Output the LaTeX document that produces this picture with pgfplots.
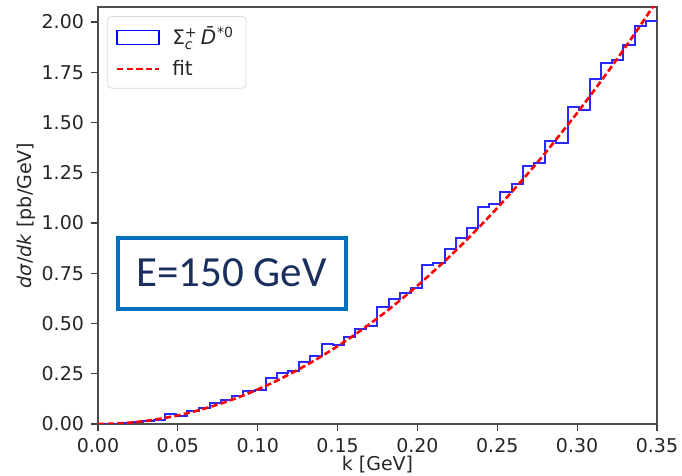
\documentclass[border=0pt]{standalone}
\usepackage{fontspec}
\setmainfont{DejaVu Sans}
\newfontfamily\calibri{Carlito}
\usepackage{pgfplots}
\pgfplotsset{compat=1.18}
\definecolor{boxblue}{HTML}{0070C0}
\definecolor{navy}{HTML}{1A2F5E}
\definecolor{histblue}{RGB}{40,40,255}
\begin{document}
\begin{tikzpicture}
\begin{axis}[
  scale only axis,
  width=279.5pt, height=208.5pt,
  xmin=0, xmax=0.35, ymin=0, ymax=2.075,
  xtick={0,0.05,...,0.35},
  ytick={0,0.25,...,2.0},
  xtick pos=lower, ytick pos=left,
  /pgf/number format/assume math mode=true,
  xticklabel style={/pgf/number format/.cd,fixed,fixed zerofill,precision=2},
  yticklabel style={/pgf/number format/.cd,fixed,fixed zerofill,precision=2},
  scaled x ticks=false, scaled y ticks=false,
  tick align=outside,
  major tick length=3.5pt,
  tick style={black!75, line width=0.6pt},
  axis line style={black!70, line width=0.7pt},
  tick label style={font=\fontsize{9.5}{11}\selectfont, text=black!85},
  label style={font=\fontsize{9.5}{11}\selectfont, text=black!85},
  xlabel={k [GeV]},
  ylabel={\textit{dσ}/\textit{dk} [pb/GeV]},
  xlabel style={yshift=5pt},
  ylabel style={yshift=-4pt},
  legend style={at={(axis cs:0.0058,2.03)}, anchor=north west, draw=black!15, rounded corners=2pt,
    fill=white, font=\fontsize{10}{12}\selectfont, inner xsep=4pt, inner ysep=3pt, row sep=2pt,
    text=black!85, /tikz/every odd column/.append style={column sep=4pt},
    /tikz/every even column/.append style={column sep=4pt}},
  legend cell align=left,
]
\addplot[histblue, line width=1pt, const plot mark left,
  legend image code/.code={\draw[blue, line width=0.6pt, sharp corners] (0pt,-3.5pt) rectangle (21pt,3.5pt);}]
coordinates {
(0,0) (0,0.0005) (0.007,0.002) (0.014,0.005) (0.021,0.010) (0.028,0.015) (0.035,0.022)
(0.042,0.050) (0.049,0.042) (0.056,0.066) (0.063,0.080) (0.070,0.105) (0.077,0.119)
(0.084,0.139) (0.091,0.166) (0.098,0.168) (0.105,0.230) (0.112,0.255) (0.119,0.262)
(0.126,0.308) (0.133,0.338) (0.140,0.400) (0.147,0.393) (0.154,0.434) (0.161,0.472)
(0.168,0.490) (0.175,0.580) (0.182,0.620) (0.189,0.650) (0.196,0.678) (0.203,0.790)
(0.210,0.800) (0.217,0.870) (0.224,0.927) (0.231,0.973) (0.238,1.082) (0.245,1.093)
(0.252,1.156) (0.259,1.195) (0.266,1.285) (0.273,1.300) (0.280,1.410) (0.287,1.400)
(0.294,1.575) (0.301,1.560) (0.308,1.715) (0.315,1.795) (0.322,1.810) (0.329,1.887)
(0.336,1.980) (0.343,2.006) (0.350,2.006)
};
\addlegendentry{\mbox{Σ}$^{\mbox{\fontsize{7}{8}\selectfont +}}_{\mbox{\fontsize{7}{8}\selectfont\textit{c}}}$\,\textit{\={D}}$^{\mbox{\fontsize{7}{8}\selectfont\textit{*}0}}$}
\addplot[red, line width=1.3pt, dash pattern=on 3.2pt off 1.6pt, smooth,
  legend image code/.code={\draw[red, line width=1.3pt, dash pattern=on 3.2pt off 1.6pt, sharp corners] (0pt,0pt) -- (21pt,0pt);}]
coordinates {
(0,0) (0.01,0.0017) (0.02,0.0069) (0.03,0.0155) (0.04,0.0275) (0.05,0.043) (0.06,0.0619)
(0.07,0.0843) (0.08,0.110) (0.09,0.139) (0.10,0.172) (0.11,0.208) (0.12,0.248) (0.13,0.291)
(0.14,0.337) (0.15,0.387) (0.16,0.440) (0.17,0.497) (0.18,0.557) (0.19,0.621) (0.20,0.688)
(0.21,0.759) (0.22,0.832) (0.23,0.910) (0.24,0.991) (0.25,1.075) (0.26,1.163) (0.27,1.254)
(0.28,1.348) (0.29,1.447) (0.30,1.548) (0.31,1.653) (0.32,1.761) (0.33,1.873) (0.34,1.988)
(0.35,2.107)
};
\addlegendentry{fit}
\node[draw=boxblue, line width=2pt, fill=white, minimum width=114pt, minimum height=35.5pt,
  text=navy, font=\calibri\fontsize{21.5}{24}\selectfont, inner sep=0pt]
  at (axis cs:0.0836,0.751) {E=150 GeV};
\end{axis}
\pgfresetboundingbox
\path[use as bounding box] ([shift={(-49pt,-26pt)}]current axis.south west) rectangle ([shift={(12.5pt,3.5pt)}]current axis.north east);
\end{tikzpicture}
\end{document}
